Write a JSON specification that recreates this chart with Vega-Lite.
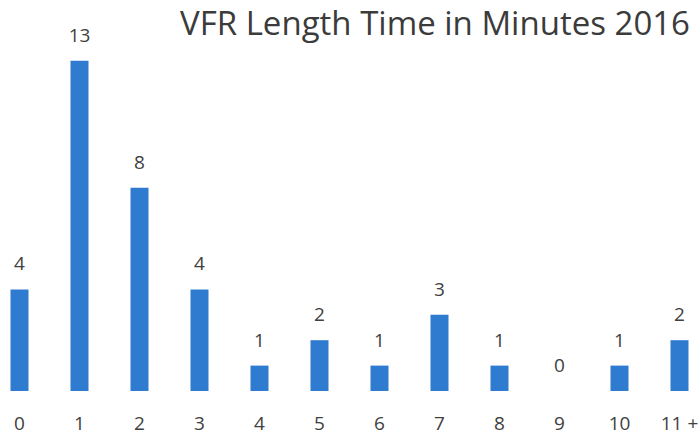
{
  "$schema": "https://vega.github.io/schema/vega-lite/v6.json",
  "width": 700,
  "height": 346,
  "autosize": {"type": "none"},
  "padding": {"top": 45, "left": 0, "right": 0, "bottom": 45},
  "background": "white",
  "title": {
    "text": "VFR Length Time in Minutes 2016",
    "anchor": "end",
    "frame": "group",
    "font": "Open Sans",
    "fontSize": 33,
    "fontWeight": "normal",
    "color": "#3b3b3b",
    "offset": 0,
    "dy": 15,
    "dx": -10
  },
  "data": {
    "values": [
      {"minutes": "0", "count": 4},
      {"minutes": "1", "count": 13},
      {"minutes": "2", "count": 8},
      {"minutes": "3", "count": 4},
      {"minutes": "4", "count": 1},
      {"minutes": "5", "count": 2},
      {"minutes": "6", "count": 1},
      {"minutes": "7", "count": 3},
      {"minutes": "8", "count": 1},
      {"minutes": "9", "count": 0},
      {"minutes": "10", "count": 1},
      {"minutes": "11 +", "count": 2}
    ]
  },
  "encoding": {
    "x": {
      "field": "minutes",
      "type": "ordinal",
      "sort": null,
      "scale": {"range": [-10.5, 709.5], "paddingInner": 0.7, "paddingOuter": 0.35},
      "axis": {
        "title": null,
        "domain": false,
        "ticks": false,
        "tickSize": 0,
        "labelAngle": 0,
        "labelFont": "Open Sans",
        "labelFontSize": 19,
        "labelColor": "#404040",
        "labelBaseline": "alphabetic",
        "labelPadding": 38
      }
    },
    "y": {
      "field": "count",
      "type": "quantitative",
      "scale": {"domain": [0, 13.62], "nice": false},
      "axis": null
    }
  },
  "layer": [
    {"mark": {"type": "bar", "color": "#2E7BCF"}},
    {
      "mark": {"type": "text", "baseline": "alphabetic", "dy": -19, "font": "Open Sans", "fontSize": 19, "color": "#404040"},
      "encoding": {"text": {"field": "count", "type": "quantitative"}}
    }
  ],
  "config": {"view": {"stroke": null}}
}
